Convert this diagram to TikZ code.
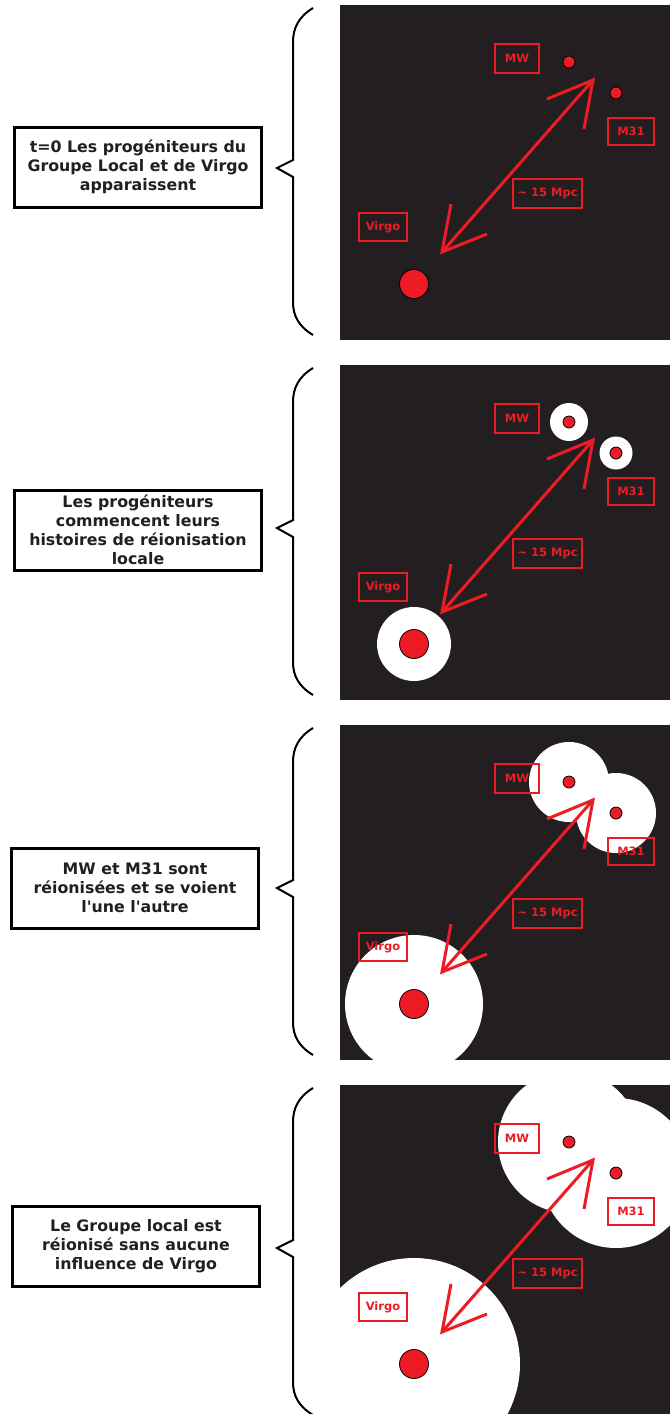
\documentclass[tikz,border=0pt]{standalone}
\usepackage{fontspec}
\setmainfont{DejaVu Sans}[Ligatures=TeXOff]
\definecolor{nightbg}{HTML}{231F20}
\definecolor{galred}{HTML}{ED1C24}
\tikzset{
  stagebox/.style={draw=black, line width=3pt, fill=white, text=nightbg, font=\bfseries\fontsize{15.8}{19}\selectfont, align=center, minimum width=247pt, minimum height=80pt, inner sep=0pt},
  galbox/.style={draw=galred, line width=1.5pt, text=galred, font=\bfseries\fontsize{11.5}{13}\selectfont, inner sep=0pt},
  galdot/.style={circle, draw=black, line width=0.8pt, fill=galred, inner sep=0pt},
  halo/.style={fill=white},
  bracket/.style={line width=2pt, line join=miter},
  distarrow/.style={galred, line width=3pt, line join=miter},
}

\begin{document}
\begin{tikzpicture}[x=1pt, y=-1pt]
    \useasboundingbox (0,0) rectangle (670,1414);

    % Draw panels
    \foreach \i/\py/\rmw/\rm/\rv in {1/5/0.01/0.01/0.01, 2/365/19/16.5/37, 3/725/40/40/69, 4/1085/71/75/106} {
    \begin{scope}[shift={(0,\py)}]
        \fill[nightbg] (340,0) rectangle (670,335);
        \begin{scope}
            \clip (340,0) rectangle (670,335);
            \fill[halo] (569,57) circle[radius=\rmw];
            \fill[halo] (616,88) circle[radius=\rm];
            \fill[halo] (414,279) circle[radius=\rv];
        \end{scope}

        % Galaxies
        \node[galdot, minimum size=12pt] (mw\i) at (569,57) {};
        \node[galdot, minimum size=12pt] (m\i) at (616,88) {};
        \node[galdot, minimum size=29pt] (virgo\i) at (414,279) {};

        % Distance arrow
        \coordinate (far\i) at (593,75);
        \coordinate (near\i) at (442,247);
        \coordinate (farl\i) at (547,94);
        \coordinate (farr\i) at (584,124);
        \coordinate (nearl\i) at (451,199);
        \coordinate (nearr\i) at (487,229);
        \draw[distarrow] (near\i) -- (far\i);
        \draw[distarrow] (farl\i) -- (far\i) -- (farr\i);
        \draw[distarrow] (nearl\i) -- (near\i) -- (nearr\i);

        % Labels
        \node[galbox, minimum width=44pt, minimum height=29pt] (mwlab\i) at (517,53.5) {MW};
        \node[galbox, minimum width=46pt, minimum height=27pt] (mlab\i) at (631,126.5) {M31};
        \node[galbox, minimum width=48pt, minimum height=28pt] (virgolab\i) at (383,222) {Virgo};
        \node[galbox, minimum width=69pt, minimum height=29pt] (dist\i) at (547.5,188.5) {\textasciitilde{} 15 Mpc};

        % Brace
        \draw[bracket] (313,3) .. controls (298,12) and (293,24) .. (293,37) -- (293,155) -- (277,163)
            -- (293,172) -- (293,297) .. controls (293,310) and (298,321) .. (313,330);
    \end{scope}
    }

    % Stage texts
    \node[stagebox] (stage1) at (138,167) {t=0 Les progéniteurs du\\Groupe Local et de Virgo\\apparaissent};
    \node[stagebox] (stage2) at (138,530) {Les progéniteurs\\commencent leurs\\histoires de réionisation\\locale};
    \node[stagebox] (stage3) at (135,888) {MW et M31 sont\\réionisées et se voient\\l'une l'autre};
    \node[stagebox] (stage4) at (136,1246) {Le Groupe local est\\réionisé sans aucune\\influence de Virgo};
\end{tikzpicture}
\end{document}
